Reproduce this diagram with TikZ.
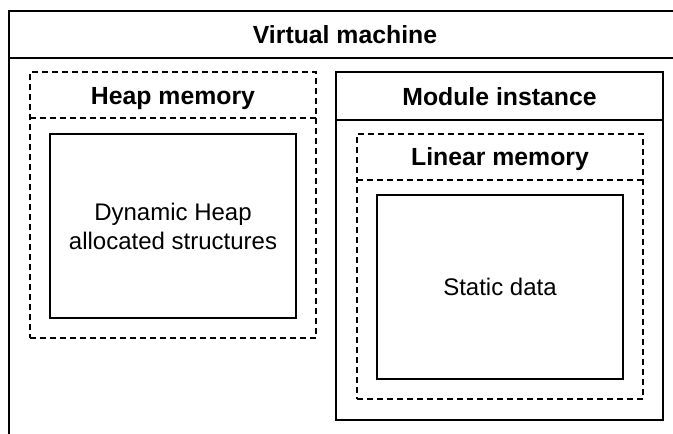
\documentclass[tikz,border=0pt]{standalone}
\usepackage{fontspec}
\setmainfont{Liberation Sans}
\usetikzlibrary{calc}
\begin{document}
\begin{tikzpicture}[x=1pt,y=-1pt,
  solidbox/.style={draw=black, line width=1.5pt, inner sep=0pt, outer sep=0pt, anchor=north west},
  dashbox/.style={solidbox, dash pattern=on 6pt off 4pt},
  rule/.style={draw=black, line width=1.5pt},
  dashrule/.style={rule, dash pattern=on 6pt off 4pt},
  title/.style={font=\bfseries\fontsize{24.8}{29}\selectfont, inner sep=0pt, anchor=base},
  body/.style={font=\fontsize{24}{29}\selectfont, align=center, inner sep=0pt}]
\useasboundingbox (0,0) rectangle (673,434);
\clip (0,0) rectangle (673,434);

% virtual machine (runs off the right and bottom edges)
\node[solidbox, minimum width=672pt, minimum height=470pt] (vm) at (9,11) {};
\draw[rule] ($(vm.north west)+(0,47)$) coordinate (vmhl) -- ($(vm.north east)+(0,47)$) coordinate (vmhr);
\node[title] (vmtitle) at ($(vm.north)+(0,32)$) {Virtual machine};

% heap memory
\node[dashbox, minimum width=286pt, minimum height=266pt] (heap) at (30,72) {};
\draw[dashrule] ($(heap.north west)+(0,46)$) coordinate (hhl) -- ($(heap.north east)+(0,46)$) coordinate (hhr);
\node[title] (heaptitle) at ($(heap.north)+(0,32.5)$) {Heap memory};
\node[solidbox, minimum width=246pt, minimum height=184pt] (dyn) at (50,134) {};
\node[body] (dyntext) at (dyn.center) {Dynamic Heap\\allocated structures};

% module instance
\node[solidbox, minimum width=327pt, minimum height=348pt] (mod) at (336,72) {};
\draw[rule] ($(mod.north west)+(0,48)$) coordinate (mhl) -- ($(mod.north east)+(0,48)$) coordinate (mhr);
\node[title] (modtitle) at ($(mod.north)+(0,33)$) {Module instance};

% linear memory
\node[dashbox, minimum width=286pt, minimum height=265pt] (lin) at (357,134) {};
\draw[dashrule] ($(lin.north west)+(0,46)$) coordinate (lhl) -- ($(lin.north east)+(0,46)$) coordinate (lhr);
\node[title] (lintitle) at ($(lin.north)+(0,31)$) {Linear memory};
\node[solidbox, minimum width=246pt, minimum height=184pt] (static) at (377,195) {};
\node[body] (statictext) at (static.center) {Static data};
\end{tikzpicture}
\end{document}
